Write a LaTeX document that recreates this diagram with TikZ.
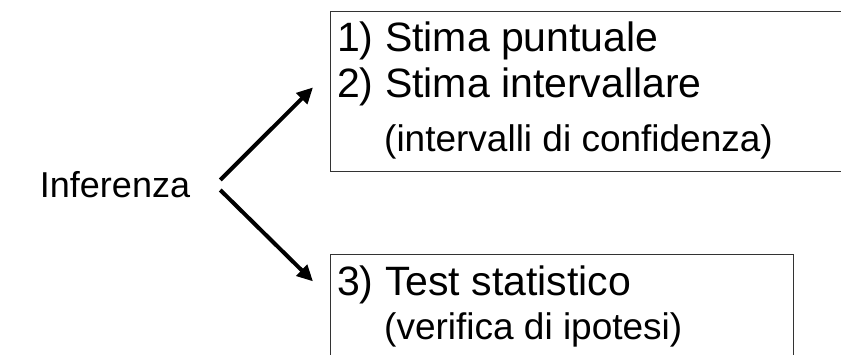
\documentclass[tikz,border=0pt]{standalone}
\usepackage{fontspec}
\setmainfont{Liberation Sans}
\usetikzlibrary{arrows.meta}
\tikzset{
	every node/.style={inner sep=0pt},
	big/.style={
		font=\fontsize{41}{46}\selectfont,
		anchor=base west,
	},
	small/.style={
		font=\fontsize{37}{42}\selectfont,
		anchor=base west,
	},
	frame/.style={
		draw=black!80,
		line width=1pt,
		rectangle,
	},
	branch/.style={
		line width=4pt,
		-{Triangle[length=16pt,width=15pt]}
	},
}

\begin{document}
\begin{tikzpicture}[x=1pt,y=-1pt]
		\clip (0,0) rectangle (841,355);

		\node[frame, minimum width=540pt, minimum height=160pt] (upper) at (600,92) {};
		\node[frame, minimum width=463pt, minimum height=125pt] (lower) at (561.5,317.5) {};

		\node[big, anchor=center, font=\fontsize{36}{42}\selectfont] 	(infer) at (115,185) {Inferenza};

		\node[big] 		(l1) at (337,52) {1) Stima puntuale};
		\node[big] 		(l2) at (337,98) {2) Stima intervallare};
		\node[small] 	(l2b) at (384,152) {(intervalli di confidenza)};

		\node[big] 		(l3) at (337,296) {3) Test statistico};
		\node[small] 	(l3b) at (384,340) {(verifica di ipotesi)};

		\draw[branch] 	([xshift=30pt,yshift=5pt]infer.east) -- ([xshift=-24pt]l2.west);
		\draw[branch] 	([xshift=30pt,yshift=-5pt]infer.east) -- ([xshift=-24pt,yshift=4pt]l3.west);
\end{tikzpicture}
\end{document}
